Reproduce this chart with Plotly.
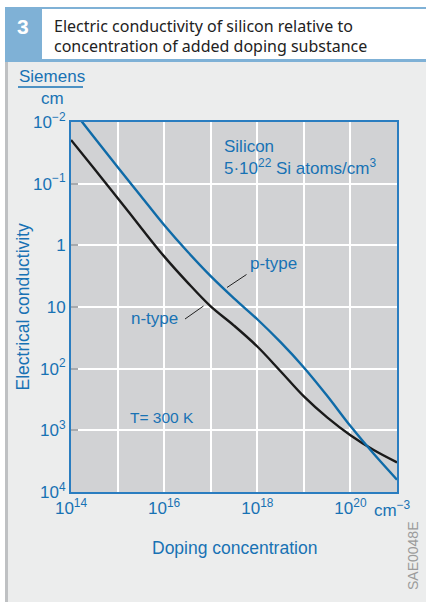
import plotly.graph_objects as go

# ---- data ----
doping_cm3 = [1e14, 3.16e14, 1e15, 3.16e15, 1e16, 3.16e16, 1e17, 3.16e17,
              1e18, 3.16e18, 1e19, 3.16e19, 1e20, 3.16e20, 1e21]
n_type = [0.0195, 0.0575, 0.170, 0.513, 1.51, 3.98, 9.77, 20.0,
          43.7, 110, 282, 617, 1202, 2089, 3311]
p_type = [0.00589, 0.0178, 0.0537, 0.158, 0.468, 1.26, 3.16, 7.24,
          15.8, 37.2, 95.5, 275, 851, 2399, 6310]

x_tickvals = [1e14, 1e15, 1e16, 1e17, 1e18, 1e19, 1e20, 1e21]
x_ticktext = ["10<sup>14</sup>", "", "10<sup>16</sup>", "", "10<sup>18</sup>", "",
              "10<sup>20</sup>", ""]
y_tickvals = [1e-2, 1e-1, 1, 10, 1e2, 1e3, 1e4]
y_ticktext = ["10<sup>\u22122</sup>", "10<sup>\u22121</sup>", "1", "10",
              "10<sup>2</sup>", "10<sup>3</sup>", "10<sup>4</sup>"]

BLUE_TXT = "#1872B4"
BLUE_LINE = "#0F6BA8"
FONT = "Liberation Sans, Arial, sans-serif"

W, H = 426, 602
L, R, T, B = 71, 29, 122, 110
PW, PH = W - L - R, H - T - B


def px(x):
    return (x - L) / PW


def py(y):
    return (H - B - y) / PH


fig = go.Figure()
fig.add_trace(go.Scatter(x=doping_cm3, y=n_type, mode="lines",
                         line=dict(color="#1a1a1a", width=2.4, shape="spline", smoothing=1.0),
                         hoverinfo="skip", showlegend=False))
fig.add_trace(go.Scatter(x=doping_cm3, y=p_type, mode="lines",
                         line=dict(color=BLUE_LINE, width=2.4, shape="spline", smoothing=1.0),
                         hoverinfo="skip", showlegend=False))

shapes = []
# white margins outside the gray panel
shapes.append(dict(type="rect", xref="paper", yref="paper", x0=px(0), x1=px(W), y0=py(7), y1=py(0),
                   fillcolor="white", line_width=0, layer="above"))
shapes.append(dict(type="rect", xref="paper", yref="paper", x0=px(0), x1=px(5), y0=py(H), y1=py(0),
                   fillcolor="white", line_width=0, layer="above"))
# gray left border of panel
shapes.append(dict(type="rect", xref="paper", yref="paper", x0=px(5), x1=px(8), y0=py(H), y1=py(61),
                   fillcolor="#BFC1C3", line_width=0, layer="above"))
# header: blue frame, white title box, number box
shapes.append(dict(type="rect", xref="paper", yref="paper", x0=px(5), x1=px(W), y0=py(62), y1=py(7),
                   fillcolor="#7FB1D6", line_width=0, layer="above"))
shapes.append(dict(type="rect", xref="paper", yref="paper", x0=px(42), x1=px(W), y0=py(59), y1=py(9),
                   fillcolor="white", line_width=0, layer="above"))
# unit fraction bar
shapes.append(dict(type="line", xref="paper", yref="paper", x0=px(18), x1=px(83), y0=py(87), y1=py(87),
                   line=dict(color=BLUE_TXT, width=1.5), layer="above"))
# leader lines
shapes.append(dict(type="line", xref="paper", yref="paper", x0=px(227), x1=px(246.5), y0=py(287.5), y1=py(274.5),
                   line=dict(color="#222", width=1), layer="above"))
shapes.append(dict(type="line", xref="paper", yref="paper", x0=px(185), x1=px(203.5), y0=py(319), y1=py(306),
                   line=dict(color="#222", width=1), layer="above"))

ann = []


def text(x, y, s, size, color=BLUE_TXT, xanchor="center", yanchor="middle", angle=0, family=FONT, **kw):
    ann.append(dict(xref="paper", yref="paper", x=px(x), y=py(y), text=s, showarrow=False,
                    xanchor=xanchor, yanchor=yanchor, textangle=angle,
                    font=dict(size=size, color=color, family=family), **kw))


text(23, 26, "<b>3</b>", 21, color="white", family="Liberation Sans, Arial")
text(52, 26, "Electric conductivity of silicon relative to", 16, color="#222", xanchor="left",
     family="Noto Sans")
text(52, 46.5, "concentration of added doping substance", 16, color="#222", xanchor="left",
     family="Noto Sans")
text(52, 77, "Siemens", 17)
text(52, 98, "cm", 17)
text(22.5, 307, "Electrical conductivity", 17.5, angle=-90)
text(234, 548, "Doping concentration", 17.5)
text(372, 509, "cm<sup>\u22123</sup>", 17, xanchor="left")
text(222, 146, "Silicon", 17, xanchor="left")
text(222, 167, "5\u00b710<sup>22</sup> Si atoms/cm<sup>3</sup>", 17, xanchor="left")
text(248, 263, "p-type", 17, xanchor="left")
text(180, 318, "n-type", 17, xanchor="right")
text(128, 417, "T= 300 K", 15.5, xanchor="left")
text(413, 556, "SAE0048E", 14, color="#9B9B9B", angle=-90)

fig.update_layout(
    width=W, height=H,
    margin=dict(l=L, r=R, t=T, b=B, pad=0),
    paper_bgcolor="#ECEDED",
    plot_bgcolor="#D1D2D4",
    shapes=shapes,
    annotations=ann,
    font=dict(family=FONT, color=BLUE_TXT, size=17),
)
fig.update_xaxes(type="log", range=[14, 21], tickvals=x_tickvals, ticktext=x_ticktext,
                 showgrid=True, gridcolor="white", gridwidth=1.5,
                 showline=True, linecolor="#2A7DC0", linewidth=2, mirror=True,
                 ticks="", tickfont=dict(size=17, color=BLUE_TXT), zeroline=False)
fig.update_yaxes(type="log", range=[4, -2], tickvals=y_tickvals, ticktext=y_ticktext,
                 showgrid=True, gridcolor="white", gridwidth=1.5,
                 showline=True, linecolor="#2A7DC0", linewidth=2, mirror=True,
                 ticks="inside", ticklen=7, tickcolor="#A8AAAD", tickwidth=2,
                 tickfont=dict(size=17, color=BLUE_TXT), zeroline=False)

fig.write_html("out.html", config={"displayModeBar": False},
               post_script="document.body.style.margin='0';document.body.style.padding='0';"
                           "document.body.style.overflow='hidden';")
